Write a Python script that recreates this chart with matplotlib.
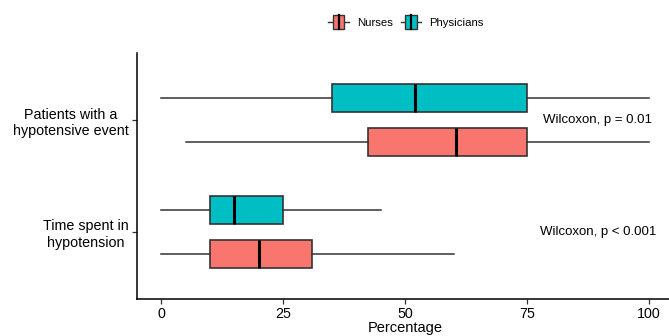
import matplotlib
matplotlib.use("Agg")
import matplotlib.pyplot as plt
from matplotlib.patches import Rectangle, Patch
from matplotlib.lines import Line2D
from matplotlib.legend_handler import HandlerBase

plt.rcParams["font.family"] = ["Liberation Sans", "DejaVu Sans"]

# outcome categories (bottom to top) and group summaries, in percent
outcomes = ["Time spent in\nhypotension", "Patients with a\nhypotensive event"]
groups = ["Nurses", "Physicians"]
colors = {"Nurses": "#F8766D", "Physicians": "#00BFC4"}

# per outcome: [whislo, q1, median, q3, whishi]
nurses_stats = [[0, 10, 20, 31, 60], [5, 42.5, 60.5, 75, 100]]
physicians_stats = [[0, 10, 15, 25, 45], [0, 35, 52, 75, 100]]
pvalue_labels = ["Wilcoxon, p < 0.001", "Wilcoxon, p = 0.01"]

edge = "#333333"


class BoxKeyHandler(HandlerBase):
    # small horizontal boxplot glyph for the legend keys
    def create_artists(self, legend, orig_handle, xdescent, ydescent,
                       width, height, fontsize, trans):
        x0, y0 = -xdescent, -ydescent
        fc = orig_handle.get_facecolor()
        ym = y0 + height / 2
        bx0, bx1 = x0 + width * 0.22, x0 + width * 0.78
        box = Rectangle((bx0, y0), bx1 - bx0, height, facecolor=fc,
                        edgecolor=edge, lw=1.0, transform=trans)
        lw_ = Line2D([x0, bx0], [ym, ym], color=edge, lw=1.0, transform=trans)
        rw_ = Line2D([bx1, x0 + width], [ym, ym], color=edge, lw=1.0, transform=trans)
        med = Line2D([(bx0 + bx1) / 2] * 2, [y0, y0 + height], color="black",
                     lw=1.6, transform=trans)
        return [lw_, rw_, box, med]


fig = plt.figure(figsize=(6.69, 3.36), dpi=100)
ax = fig.add_axes([136.7 / 669, 37 / 336, 536.8 / 669, 246 / 336])

offset = 0.2
for grp, stats, shift in [("Nurses", nurses_stats, -offset),
                          ("Physicians", physicians_stats, offset)]:
    bxp_stats = []
    for s in stats:
        bxp_stats.append({"whislo": s[0], "q1": s[1], "med": s[2],
                          "q3": s[3], "whishi": s[4], "fliers": []})
    positions = [i + 1 + shift for i in range(len(outcomes))]
    ax.bxp(bxp_stats, positions=positions, widths=0.25,
           orientation="horizontal", patch_artist=True,
           showcaps=False, showfliers=False,
           boxprops=dict(facecolor=colors[grp], edgecolor=edge, linewidth=1.2),
           whiskerprops=dict(color=edge, linewidth=1.1),
           medianprops=dict(color="black", linewidth=2.2))

for i, lbl in enumerate(pvalue_labels):
    ax.text(89.5, i + 1, lbl, ha="center", va="center", fontsize=9.5)

ax.set_xlim(-5, 105)
ax.set_ylim(0.4, 2.6)
ax.set_xticks([0, 25, 50, 75, 100])
ax.set_yticks([1, 2])
ax.set_yticklabels(outcomes)
for t in ax.get_yticklabels():
    t.set_multialignment("center")
ax.tick_params(axis="both", labelsize=10.3, length=3.5, width=0.9,
               color="#333333", pad=2.2)
ax.set_xlabel("Percentage", fontsize=10.5, labelpad=0)

for side in ["top", "right"]:
    ax.spines[side].set_visible(False)
for side in ["left", "bottom"]:
    ax.spines[side].set_linewidth(1.1)
    ax.spines[side].set_color("black")

handles = [Patch(facecolor=colors[g]) for g in groups]
fig.legend(handles, groups, loc="center", bbox_to_anchor=(406 / 669, 1 - 22 / 336),
           ncol=2, frameon=False, fontsize=8.2, handlelength=1.8,
           handleheight=1.6, handletextpad=0.7, columnspacing=0.7,
           handler_map={Patch: BoxKeyHandler()})

fig.savefig("out.png", dpi=100)
